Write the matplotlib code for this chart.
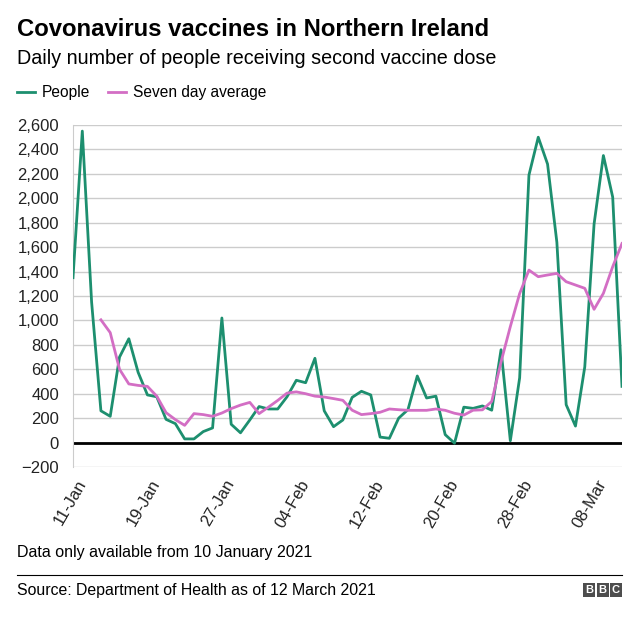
import numpy as np
import pandas as pd
import matplotlib
matplotlib.use("Agg")
import matplotlib.pyplot as plt
from matplotlib.patches import Rectangle

plt.rcParams['font.family'] = ['Liberation Sans', 'DejaVu Sans']

dates = pd.date_range('2021-01-10', '2021-03-10', freq='D')

people = [1350, 2550, 1150, 260, 215, 700, 850, 575, 390, 375,
          190, 155, 30, 30, 90, 120, 1020, 150, 80, 185,
          295, 275, 275, 375, 510, 490, 690, 260, 130, 185,
          370, 420, 390, 45, 35, 200, 270, 545, 365, 380,
          65, -5, 290, 280, 300, 265, 760, 15, 530, 2190,
          2500, 2280, 1640, 310, 135, 620, 1790, 2350, 2010, 460]

avg = [np.nan, np.nan, np.nan, 1005, 900, 600, 480, 468, 460, 380,
       245, 188, 141, 237, 229, 215, 242, 278, 307, 329,
       237, 290, 345, 405, 415, 400, 380, 373, 360, 346,
       265, 229, 237, 248, 275, 269, 264, 264, 264, 275,
       264, 240, 225, 265, 268, 337, 660, 950, 1220, 1412,
       1358, 1372, 1385, 1317, 1290, 1263, 1091, 1222, 1440, 1630]

tick_dates = pd.to_datetime(['2021-01-11', '2021-01-19', '2021-01-27', '2021-02-04',
                             '2021-02-12', '2021-02-20', '2021-02-28', '2021-03-08'])
tick_labels = ['11-Jan', '19-Jan', '27-Jan', '04-Feb', '12-Feb', '20-Feb', '28-Feb', '08-Mar']
y_ticks = list(range(-200, 2601, 200))

green = '#1d8f6f'
pink = '#d36ec4'

fig = plt.figure(figsize=(6.4, 6.19), dpi=100)
ax = fig.add_axes([73/640, 1-467/619, (622-73)/640, (467-125)/619])

ax.plot(dates, people, color=green, lw=2, zorder=3)
ax.plot(dates, avg, color=pink, lw=2, zorder=3)
ax.axhline(0, color='black', lw=2, zorder=2)

ax.set_xlim(dates[0], dates[-1])
ax.set_ylim(-200, 2600)
ax.set_yticks(y_ticks)
ax.set_yticklabels([f'{v:,}'.replace('-', '\u2212') for v in y_ticks])
ax.grid(axis='y', color='#cccccc', lw=1)
ax.set_axisbelow(True)
for s in ['top', 'right', 'bottom']:
    ax.spines[s].set_visible(False)
ax.spines['left'].set_color('#cccccc')
ax.tick_params(axis='y', length=0, labelsize=12, pad=10, colors='#222222')
ax.set_xticks(tick_dates)
ax.set_xticklabels(tick_labels, rotation=60, ha='right', va='center',
                   rotation_mode='anchor', fontsize=12, color='#222222')
ax.tick_params(axis='x', length=0, pad=10)

# titles
fig.text(17/640, 1-30/619, 'Covonavirus vaccines in Northern Ireland',
         fontsize=17.2, fontweight='bold', va='center', ha='left')
fig.text(17/640, 1-58/619, 'Daily number of people receiving second vaccine dose',
         fontsize=14.2, va='center', ha='left')

# legend
ly = 1-92/619
fig.add_artist(plt.Line2D([17/640, 35/640], [ly, ly], color=green, lw=2))
fig.text(42/640, ly, 'People', fontsize=11.2, va='center', ha='left')
fig.add_artist(plt.Line2D([108/640, 126/640], [ly, ly], color=pink, lw=2))
fig.text(133/640, ly, 'Seven day average', fontsize=11.2, va='center', ha='left')

# footer
fig.text(17/640, 1-553/619, 'Data only available from 10 January 2021',
         fontsize=11.5, va='center', ha='left')
fig.add_artist(plt.Line2D([17/640, 622/640], [1-575/619, 1-575/619], color='black', lw=0.8))
fig.text(17/640, 1-590/619, 'Source: Department of Health as of 12 March 2021',
         fontsize=11.4, va='center', ha='left')

# BBC blocks
for i, letter in enumerate('BBC'):
    x0 = 583 + i*13.5
    fig.add_artist(Rectangle((x0/640, 1-597/619), 12/640, 14/619,
                             facecolor='#4d4d4d', edgecolor='none'))
    fig.text((x0+6)/640, 1-590/619, letter, fontsize=8, fontweight='bold',
             color='white', ha='center', va='center')

fig.savefig('out.png', dpi=100)
